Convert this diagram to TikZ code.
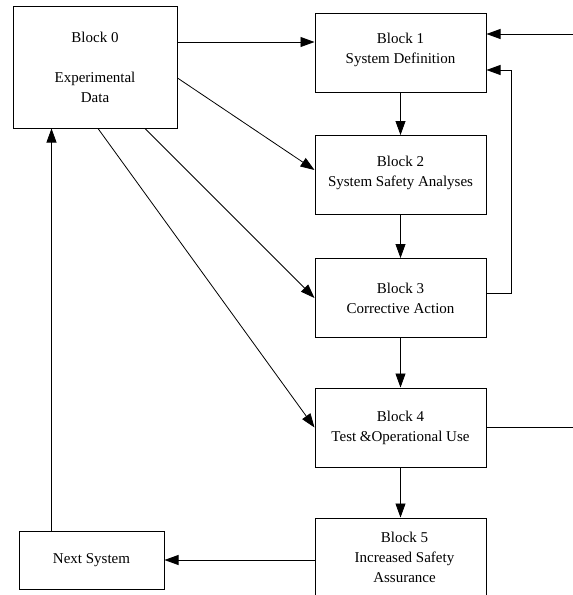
\documentclass[tikz,border=0pt]{standalone}
\usepackage{fontspec}
\setmainfont{Liberation Serif}
\usetikzlibrary{arrows.meta}
\begin{document}
\begin{tikzpicture}[>={Triangle[length=14pt,width=10pt]},x=1pt,y=-1pt,
    blk/.style={draw,line width=1pt,align=center,minimum width=171pt,minimum height=79pt,inner sep=0pt,font=\fontsize{15}{20}\selectfont},
    con/.style={->,line width=0.8pt}]
    \useasboundingbox (0,0) rectangle (573,595);
    \node[blk,minimum width=164pt,minimum height=122pt] (b0) at (95,67) {Block 0\\[20pt]Experimental\\Data};
    \node[blk] (b1) at (400.5,52.5) {Block 1\\System Definition\\[-12pt]\mbox{}};
    \node[blk] (b2) at (400.5,175) {Block 2\\System Safety Analyses\\[-12pt]\mbox{}};
    \node[blk] (b3) at (400.5,298) {Block 3\\Corrective Action};
    \node[blk] (b4) at (400.5,427.5) {Block 4\\Test \&Operational Use};
    \node[blk] (b5) at (400.5,557.5) {\hspace{8pt}Block 5\\\hspace{8pt}Increased Safety\\\hspace{8pt}Assurance};
    \node[blk,minimum width=145pt,minimum height=58pt] (ns) at (91.5,560) {Next System};
    \coordinate (in1) at (573,34);
    \coordinate (out4) at (573,427.5);
    % from block 0
    \draw[con] ([yshift=25pt]b0.east) -- ([yshift=25pt]b0.east -| b1.west);
    \draw[con] ([yshift=-11pt]b0.east) -- ([yshift=5pt]b2.west);
    \draw[con] ([xshift=50pt]b0.south) -- (b3.west);
    \draw[con] ([xshift=3pt]b0.south) -- (b4.west);
    % main chain
    \foreach \a/\b in {b1/b2,b2/b3,b3/b4,b4/b5}{
    \draw[con] (\a) -- (\b);
    }
    % feedback
    \draw[con] ([yshift=5pt]b3.east) -- ++(25,0) |- ([yshift=-17.5pt]b1.east);
    \draw[con] (in1) -- (in1 -| b1.east);
    \draw[line width=0.8pt] (b4.east) -- (out4);
    \draw[con] ([yshift=-2.5pt]b5.west) -- ([yshift=-2.5pt]b5.west -| ns.east);
    \draw[con] ([xshift=-40pt]ns.north) -- ([xshift=-40pt]ns.north |- b0.south);
\end{tikzpicture}
\end{document}
